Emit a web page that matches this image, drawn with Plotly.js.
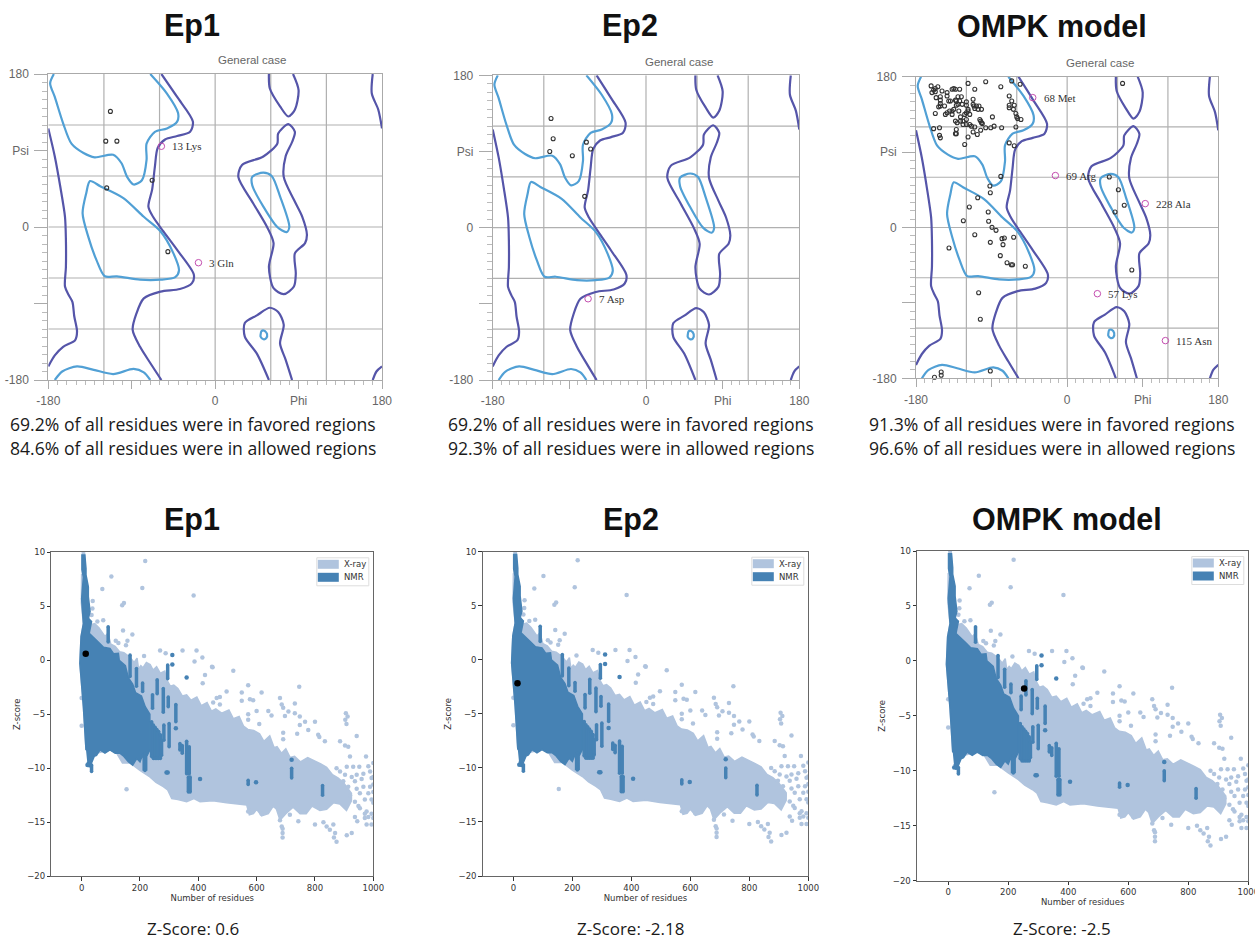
<!DOCTYPE html>
<html>
<head>
<meta charset="utf-8">
<script src="https://cdn.plot.ly/plotly-3.0.1.min.js"></script>
<style>html,body{margin:0;padding:0;background:#fff}#chart{width:1255px;height:940px}</style>
</head>
<body>
<div id="chart"></div>
<script>
// ---------- Ramachandran contours (phi, psi) ----------
const allowedContours = [
  [[-180,116],[-173,83],[-167,47],[-162,12],[-161,-15],[-161,-47],[-162,-70],[-158,-80],[-154,-88],[-152,-105],[-149,-123],[-151,-133],[-164,-141],[-173,-151],[-180,-164]],
  [[-58,180],[-41,153],[-24,124],[-27,112],[-41,107],[-54,103],[-62,93],[-65,71],[-68,44],[-72,24],[-67,12],[-56,-5],[-41,-27],[-23,-56],[-25,-66],[-38,-73],[-59,-76],[-77,-84],[-85,-102],[-89,-121],[-81,-141],[-70,-160],[-58,-180]],
  [[58,180],[59,163],[70,142],[79,130],[86,138],[90,161],[84,180]],
  [[79,121],[86,112],[83,100],[76,83],[74,59],[85,32],[94,12],[99,-9],[97,-19],[86,-31],[87,-55],[85,-70],[74,-79],[63,-72],[58,-47],[63,-19],[56,0],[41,28],[25,59],[29,73],[52,83],[67,98],[68,110],[79,121]],
  [[83,-180],[76,-156],[70,-137],[74,-115],[68,-100],[59,-95],[45,-104],[32,-113],[32,-129],[45,-149],[58,-180]],
  [[170,180],[169,157],[176,138],[180,116]],
  [[170,-180],[174,-170],[180,-164]]
];
const favoredContours = [
  [[-174,180],[-178,169],[-173,153],[-164,122],[-155,98],[-142,87],[-130,82],[-110,85],[-101,75],[-95,59],[-88,50],[-79,55],[-74,79],[-74,98],[-65,112],[-52,116],[-41,124],[-40,134],[-52,157],[-70,180]],
  [[-135,54],[-124,48],[-99,34],[-77,12],[-59,-5],[-45,-31],[-39,-51],[-43,-59],[-59,-62],[-81,-62],[-106,-58],[-119,-58],[-128,-39],[-137,-11],[-143,16],[-139,40],[-135,54]],
  [[52,64],[61,60],[70,36],[80,0],[77,-6],[67,0],[52,24],[40,49],[40,59],[52,64]],
  [[49,-127],[50,-122.5],[53,-122],[56,-126],[55,-131],[52,-132],[49,-129],[49,-127]],
  [[-173,-180],[-165,-170],[-149,-164],[-131,-168],[-110,-173],[-88,-167],[-77,-171],[-70,-180]]
];
// ---------- Residues ----------
const ep1Residues = [[-113,136],[-118,101],[-106,101],[-68,55],[-117,46],[-51,-29]];
const ep2Residues = [[-111.5,129],[-109,105],[-113,90],[-86.5,85],[-70,101],[-65,93],[-72,37]];
const ompkResidues = [
[-162,169],[-157,166],[-154,168],[-161,161],[-157,162],[-159,164],[-149,163],[-143,161],[-137,165],[-135,166],[-133,165],[-128,165],
[-118,172],[-110,165],[-97,174],[-79,168],[-66,175],[-56,171],[-69,157],[-66,151],[-63,146],[-69,146],[-69,143],[-64,141],[-61,136],[-60,132],[-59,130],[-55,129],[-61,120],[-78,119],[-89,132],[-87,121],[-91,119],[-97,119],[-102,125],[-104,129],[-103,127],[-101,124],[-103,116],[-110,120],[-112,114],[-107,111],[-114,121],[-118,108],[-122,99],[-132,117],[-132,112],[-133,112],[-152,119],[-159,118],[-152,110],[-151,107],[-157,136],
[-156,155],[-151,156],[-151,152],[-151,148],[-151,145],[-143,157],[-141,151],[-139,151],[-133,152],[-130,156],[-128,151],[-130,147],[-126,156],[-125,147],[-132,146],[-132,151],[-146,145],[-153,144],[-135,141],[-137,139],[-140,139],[-143,137],[-145,135],[-137,135],[-129,139],[-127,132],[-133,127],[-131,125],[-127,127],[-124,127],[-120,129],[-124,123],[-120,123],[-116,123],[-122,135],[-120,137],[-118,139],[-116,135],[-112,153],[-112,147],[-111,145],[-108,145],[-110,142],[-106,141],[-105,145],[-102,141],[-120,150],[-120,146],[-118,141],
[-63,97.6],[-69,101],[66,172],[-79,61],[-92,49.5],[-91.5,41.5],[-106.5,35.6],[-116.5,24.5],[-94,18.5],[-123.6,8],[-93.5,7.4],[-89.5,0.2],[-84.7,-3.4],[-110,-8.6],[-77.6,-13.3],[-74.8,-12.5],[-63.7,-11.7],[-91.5,-17.7],[-76.4,-20.5],[-140.7,-24.5],[-79.6,-33.6],[-71.6,-42],[-66.5,-44.4],[-65,-44.4],[-49.8,-46.3],[77,-50.7],[-105.4,-77.8],[-103.4,-109.6],[50.2,60.3],[61,45],[68,26.5],[57,18.5],[-91.5,-171.2],[-150,-172.4],[-150,-176.4],[-158,-178.8]
];
const ep1Outliers = [[-58,95,"13 Lys"],[-18,-42,"3 Gln"]];
const ep2Outliers = [[-68,-84,"7 Asp"]];
const ompkOutliers = [[-41,155,"68 Met"],[-14,62,"69 Arg"],[93,28.5,"228 Ala"],[36,-79,"57 Lys"],[117,-135,"115 Asn"]];
const gridVals = [-120,-60,0,60,120];
const tenDegreeTicks = [-170,-160,-150,-140,-130,-120,-110,-100,-80,-70,-60,-50,-40,-30,-20,-10,10,20,30,40,50,60,70,80,100,110,120,130,140,150,160,170];

// ---------- Z-score background data ----------
const xrayMass = [
[0,10],[10,10],[14,7],[20,5.5],[24,4],[30,3.3],[45,3.4],[60,3.0],[70,2.6],[80,2.2],[90,2.5],[100,1.5],[115,1.3],[130,0.8],[145,0.7],[165,0.3],[180,-0.2],[190,0.2],[195,-0.8],[203,-0.5],[210,-0.7],[222,-0.2],[235,-0.4],[245,-0.9],[257,-0.6],[270,-1.2],[285,-1.0],[292,-1.8],[304,-2.4],[316,-2.3],[330,-2.6],[345,-3.3],[360,-3.2],[375,-3.7],[395,-3.4],[410,-4.2],[430,-3.9],[445,-4.7],[460,-4.5],[480,-4.9],[505,-4.6],[520,-5.4],[540,-5.2],[555,-6.1],[570,-6.4],[590,-6.5],[610,-6.8],[625,-7.5],[645,-7.0],[660,-8.1],[670,-8.0],[685,-8.6],[700,-8.2],[715,-9.0],[730,-8.9],[750,-9.4],[775,-9.0],[800,-9.3],[820,-9.6],[840,-9.9],[860,-10.6],[880,-10.9],[900,-11.4],[925,-12.3],
[925,-13.0],[908,-13.9],[885,-13.3],[863,-13.2],[840,-13.8],[817,-13.9],[790,-13.5],[770,-14.2],[749,-14.2],[725,-13.6],[700,-14.2],[680,-14.8],[668,-13.8],[657,-13.5],[640,-14.2],[617,-14.4],[600,-13.8],[589,-14.2],[575,-14.3],[566,-13.4],[530,-13.3],[497,-13.2],[450,-13],[406,-13.1],[385,-12.8],[360,-13.1],[330,-12.9],[309,-12.8],[295,-12],[280,-11.7],[255,-11.3],[234,-10.8],[200,-10.2],[166,-9.5],[140,-9.5],[120,-8.6],[97,-8.3],[51,-8.6],[15,-8.3],[6,-4.3],[-6,-0.3],[-2,2.2],[6,3.4],[-1,5.3],[0,8]
];
const nmrMass = [
[15,-8.3],[6,-4.3],[-6,-0.3],[-2,2.2],[6,3.4],[1,5.3],[0,5.7],[6,7.7],[1,8.4],[1,9.75],[11,9.75],[15,8.5],[15,7.9],[23,6.8],[23,5.9],[29,4.5],[23,3.9],[34,3.6],[26,2.5],[57,1.7],[75,1.2],[97,1.1],[110,0.6],[126,0.65],[129,0],[150,-0.5],[160,-1.6],[175,-2.2],[185,-3],[205,-3.3],[218,-4.3],[234,-5],[234,-8.3],[223,-8.9],[223,-10.15],[211,-10.15],[211,-8.6],[200,-9.4],[189,-9.1],[175,-9.7],[160,-9.4],[145,-8.9],[131,-8.6],[115,-8.6],[97,-8.3],[80,-8.6],[63,-8.3],[51,-8.8],[43,-8.9],[34,-9.5],[26,-9.9],[19,-9.4]
];
const xrayPoints = [
[218,9.2],[102,7.75],[71,6.6],[208,6.7],[384,6.0],[145,5.3],[139,5.1],[38,5.5],[37,4.8],[34,4.2],[54,3.6],[74,3.7],[142,2.75],[174,2.4],[157,1.8],[152,1.4],[117,1.8],[126,1.6],[214,0.4],[269,0.9],[288,0.65],[346,0.9],[394,0.9],[387,-0.1],[414,0.25],[520,-0.96],[447,-0.6],
[449,-0.65],[423,-1.36],[415,-2.13],[571,-2.3],[746,-2.44],[617,-2.97],[497,-2.9],[549,-2.97],[680,-3.5],[577,-3.6],[549,-3.74],[588,-3.7],[731,-4],[686,-4.1],[463,-3.5],[474,-3.4],[451,-3.9],[474,-4.1],[600,-4.7],[571,-5],[571,-5.5],[640,-4.7],[651,-5.1],[691,-4.4],[709,-4.75],[697,-5.15],[731,-4.9],[748,-5.2],[766,-5.7],[800,-5.7],[609,-5.9],[748,-6],[739,-6.8],[691,-6.7],[691,-7.3],[777,-6.45],[811,-6.9],[815,-7.1],[834,-7.5],[886,-7.5],[903,-7.9],[914,-8],[943,-7],[906,-4.9],[912,-5.2],[904,-5.5],[908,-5.9],[975,-8.9],[920,-8.9],[1000,-9.5],[983,-9.8],
[874,-10],[909,-9.85],[931,-9.85],[952,-9.85],[886,-10.3],[903,-10.6],[926,-10.8],[943,-10.6],[966,-10.5],[989,-10.3],[994,-10.9],[897,-11.2],[914,-11.7],[937,-11.2],[960,-11],[943,-11.9],[966,-11.7],[989,-11.7],[920,-12.5],[954,-12.3],[983,-12.3],[937,-13.1],[971,-12.9],[994,-14.2],[983,-14.5],[971,-14.2],[954,-13.7],[1000,-10.8],[1000,-11.5],[1000,-12.2],[1000,-13.2],[1000,-14.6],[994,-12.9],[949,-13.5],[977,-14],[971,-14.6],[937,-14.5],[945,-14.9],[977,-15.2],[994,-15.2],
[577,-13.9],[617,-14.2],[680,-14.8],[686,-15.4],[743,-14.9],[800,-15.2],[829,-15],[863,-15.2],[689,-15.6],[689,-16],[689,-16.4],[840,-15.4],[851,-15.7],[869,-16],[874,-16.8],[865,-16.4],[909,-16.2],[926,-16],[714,-14.3],[571,-14],[154,-11.95],[0,-6.05],[0,-3.5]
];
const nmrColumns = [
[91,3.1,1.7],[166,0.5,-1.5],[188,-0.75,-2.4],[209,-2.1,-2.9],[259,-1.8,-3.1],[243,-3.2,-4.45],[280,-2.6,-4.8],[295,-0.44,-1.7],[297,-3.4,-4.3],[323,-4.1,-5.7],[300,-5.85,-8],[282,-6,-7.4],
[240,-5.7,-8.9],[246,-6,-9.1],[252,-6.2,-9.1],[258,-6.4,-9.1],[264,-6.6,-9.1],[270,-6.9,-9.1],[274,-7.4,-8.8],[217,-8.6,-10.2],[360,-7.5,-10.5],[369,-8,-10.5],[337,-7.7,-8.3],[345,-7.9,-8.6],[366,-10.8,-12.2],[372,-10.8,-12.2],[34,-9.7,-10.3],[720,-10,-10.9],[571,-11.1,-11.5],[826,-11.6,-12.5]
];
const nmrPoints = [[720,-9.2],[598,-11.3],[406,-11],[291,-10.4],[295,-10.4],[360,-1.6],[311,0.5],[311,-0.4],[323,-6.3],[20,-9.7]];
const structureResidues = [14,14,253];
const structureZ = [0.6,-2.18,-2.5];

// ---------- Text ----------
const panelTitles = ["Ep1","Ep2","OMPK model"];
const favoredText = ["69.2% of all residues were in favored regions","69.2% of all residues were in favored regions","91.3% of all residues were in favored regions"];
const allowedText = ["84.6% of all residues were in allowed regions","92.3% of all residues were in allowed regions","96.6% of all residues were in allowed regions"];
const zCaptions = ["Z-Score: 0.6","Z-Score: -2.18","Z-Score: -2.5"];
const yTickVals = [-180,-90,0,90,180], yTickText = ["-180","","0","Psi","180"];
const xTickVals = [-180,-90,0,90,180], xTickText = ["-180","","0","Phi","180"];
const zXTicks = [0,200,400,600,800,1000];
const zYTicks = [-20,-15,-10,-5,0,5,10];

// ---------- Panel geometry in page pixels ----------
const W = 1255, H = 940;
const fx = p => p / W, fy = p => 1 - p / H;
const ramaBoxes = [[48.3,382,74,380],[492.7,799.3,75.3,380],[916,1218.3,76.7,378.3]];
const zBoxes = [[51.3,373.3,552.3,876.3],[482.7,808.3,551.7,876],[917,1248.3,551,880.7]];
const titleTop = [[192,26],[630,26],[1052,26]];
const titleBottom = [[192,519],[631,519],[1067,519]];
const genCase = [[252,60],[679,62],[1100,63]];
const textLeft = [9,447,868];
const captionX = [[193,928],[630,928],[1062,928]];

const residuesSets = [ep1Residues, ep2Residues, ompkResidues];
const outlierSets = [ep1Outliers, ep2Outliers, ompkOutliers];

const traces = [], shapes = [], annotations = [];
const layout = {width:W,height:H,margin:{l:0,r:0,t:0,b:0},paper_bgcolor:'#fff',plot_bgcolor:'#fff',showlegend:false,shapes,annotations,hovermode:false};

const ann = (text,px,py,font,extra) => annotations.push(Object.assign({text,xref:'paper',yref:'paper',x:fx(px),y:fy(py),xanchor:'center',yanchor:'middle',showarrow:false,font,borderpad:0},extra||{}));
const titleFont = {family:'Liberation Sans',size:30.5,color:'#111'};
const titleFontBold = t => '<b>'+t+'</b>';
const bodyFont = {family:'Open Sans',size:17.6,color:'#1a1a1a'};
const minorTicks = len => ({tickmode:'array',tickvals:tenDegreeTicks,ticks:'outside',ticklen:len,tickcolor:'#bbb',tickwidth:1,showgrid:false});

// Ramachandran panels
ramaBoxes.forEach((b,i)=>{
  const n = i+1, xa = 'x'+(n===1?'':n), ya = 'y'+(n===1?'':n);
  layout['xaxis'+(n===1?'':n)] = {domain:[fx(b[0]),fx(b[1])],range:[-180,180],anchor:ya,tickvals:xTickVals,ticktext:xTickText,ticks:'outside',ticklen:8,tickcolor:'#aaa',tickwidth:1,showgrid:false,zeroline:false,showline:true,mirror:true,linecolor:'#aaa',linewidth:1,ticklabelstandoff:2,tickfont:{family:'Liberation Sans',size:12,color:'#666'},minor:minorTicks(4)};
  layout['yaxis'+(n===1?'':n)] = {domain:[fy(b[3]),fy(b[2])],range:[-180,180],anchor:xa,tickvals:yTickVals,ticktext:yTickText,ticks:'outside',ticklen:13,tickcolor:'#aaa',tickwidth:1,showgrid:false,zeroline:false,showline:true,mirror:true,linecolor:'#aaa',linewidth:1,ticklabelstandoff:3,tickfont:{family:'Liberation Sans',size:12,color:'#666'},minor:minorTicks(5)};
  gridVals.forEach(v=>{
    shapes.push({type:'line',xref:xa,yref:ya,x0:v,x1:v,y0:-180,y1:180,layer:'below',line:{color:'#b0b0b0',width:1.2}});
    shapes.push({type:'line',xref:xa,yref:ya,x0:-180,x1:180,y0:v,y1:v,layer:'below',line:{color:'#b0b0b0',width:1.2}});
  });
  allowedContours.forEach(c=>traces.push({type:'scatter',mode:'lines',xaxis:xa,yaxis:ya,x:c.map(p=>p[0]),y:c.map(p=>p[1]),line:{color:'#5555a9',width:2.2,shape:'spline',smoothing:0.8}}));
  favoredContours.forEach(c=>traces.push({type:'scatter',mode:'lines',xaxis:xa,yaxis:ya,x:c.map(p=>p[0]),y:c.map(p=>p[1]),line:{color:'#51a0d5',width:2.2,shape:'spline',smoothing:0.8}}));
  const rs = residuesSets[i];
  traces.push({type:'scatter',mode:'markers',xaxis:xa,yaxis:ya,cliponaxis:false,x:rs.map(p=>p[0]),y:rs.map(p=>p[1]),marker:{symbol:'circle-open',size:4,color:'#333',line:{width:1.1,color:'#333'}}});
  const os = outlierSets[i];
  traces.push({type:'scatter',mode:'markers',xaxis:xa,yaxis:ya,x:os.map(p=>p[0]),y:os.map(p=>p[1]),marker:{symbol:'circle-open',size:6.5,color:'#c44fb0',line:{width:1,color:'#c44fb0'}}});
  os.forEach(o=>annotations.push({text:o[2],xref:xa,yref:ya,x:o[0],y:o[1],xanchor:'left',yanchor:'middle',xshift:9,showarrow:false,font:{family:'Liberation Serif',size:11,color:'#333'}}));
  ann(titleFontBold(panelTitles[i]),titleTop[i][0],titleTop[i][1],titleFont);
  ann('General case',genCase[i][0],genCase[i][1],{family:'Liberation Sans',size:11.5,color:'#666'});
  ann(favoredText[i],textLeft[i],424,bodyFont,{xanchor:'left'});
  ann(allowedText[i],textLeft[i],448,bodyFont,{xanchor:'left'});
});

// Z-score panels
const columnLineX = [], columnLineY = [];
nmrColumns.forEach(c=>{columnLineX.push(c[0],c[0],null);columnLineY.push(c[1],c[2],null);});
zBoxes.forEach((b,i)=>{
  const n = i+4, xa = 'x'+n, ya = 'y'+n;
  layout['xaxis'+n] = {domain:[fx(b[0]),fx(b[1])],range:[-104,1000],anchor:ya,tickvals:zXTicks,ticks:'outside',ticklen:3.5,tickcolor:'#333',tickwidth:0.8,showgrid:false,zeroline:false,showline:true,mirror:true,linecolor:'#666',linewidth:1,ticklabeloverflow:'allow',tickfont:{family:'DejaVu Sans',size:8.5,color:'#333'},title:{text:'Number of residues',font:{family:'DejaVu Sans',size:8.5,color:'#333'},standoff:2}};
  layout['yaxis'+n] = {domain:[fy(b[3]),fy(b[2])],range:[-20,10],anchor:xa,tickvals:zYTicks,ticks:'outside',ticklen:3.5,tickcolor:'#333',tickwidth:0.8,showgrid:false,zeroline:false,showline:true,mirror:true,linecolor:'#666',linewidth:1,tickfont:{family:'DejaVu Sans',size:8.5,color:'#333'},title:{text:'Z-score',font:{family:'DejaVu Sans',size:8.5,color:'#333'},standoff:5}};
  traces.push({type:'scatter',mode:'lines',name:'X-ray',xaxis:xa,yaxis:ya,x:xrayMass.map(p=>p[0]),y:xrayMass.map(p=>p[1]),fill:'toself',fillcolor:'#b0c4de',line:{color:'#b0c4de',width:1.5}});
  traces.push({type:'scatter',mode:'markers',xaxis:xa,yaxis:ya,x:xrayPoints.map(p=>p[0]),y:xrayPoints.map(p=>p[1]),marker:{size:4.5,color:'#b0c4de'}});
  traces.push({type:'scatter',mode:'lines',name:'NMR',xaxis:xa,yaxis:ya,x:nmrMass.map(p=>p[0]),y:nmrMass.map(p=>p[1]),fill:'toself',fillcolor:'#4682b4',line:{color:'#4682b4',width:1.5}});
  traces.push({type:'scatter',mode:'lines+markers',xaxis:xa,yaxis:ya,x:columnLineX,y:columnLineY,line:{color:'#4682b4',width:3.5},marker:{size:3.5,color:'#4682b4'}});
  traces.push({type:'scatter',mode:'markers',xaxis:xa,yaxis:ya,x:nmrPoints.map(p=>p[0]),y:nmrPoints.map(p=>p[1]),marker:{size:4.5,color:'#4682b4'}});
  traces.push({type:'scatter',mode:'markers',xaxis:xa,yaxis:ya,x:[structureResidues[i]],y:[structureZ[i]],marker:{size:6.5,color:'#000'}});
  // legend box
  const lx1 = b[1]-4.5, ly0 = b[2]+5.5;
  shapes.push({type:'rect',xref:'paper',yref:'paper',x0:fx(lx1-52),x1:fx(lx1),y0:fy(ly0),y1:fy(ly0+28),fillcolor:'#fff',line:{color:'#ddd',width:1},layer:'above'});
  shapes.push({type:'rect',xref:'paper',yref:'paper',x0:fx(lx1-51),x1:fx(lx1-30),y0:fy(ly0+2),y1:fy(ly0+11),fillcolor:'#b0c4de',line:{width:0},layer:'above'});
  shapes.push({type:'rect',xref:'paper',yref:'paper',x0:fx(lx1-51),x1:fx(lx1-30),y0:fy(ly0+15),y1:fy(ly0+24),fillcolor:'#4682b4',line:{width:0},layer:'above'});
  ann('X-ray',lx1-26,ly0+6.5,{family:'DejaVu Sans',size:8.5,color:'#333'},{xanchor:'left'});
  ann('NMR',lx1-26,ly0+19.5,{family:'DejaVu Sans',size:8.5,color:'#333'},{xanchor:'left'});
  ann(titleFontBold(panelTitles[i]),titleBottom[i][0],titleBottom[i][1],titleFont);
  ann(zCaptions[i],captionX[i][0],captionX[i][1],{family:'Open Sans',size:17,color:'#1a1a1a'});
});
Plotly.newPlot('chart',traces,layout,{displayModeBar:false,responsive:false});
</script>
</body>
</html>
